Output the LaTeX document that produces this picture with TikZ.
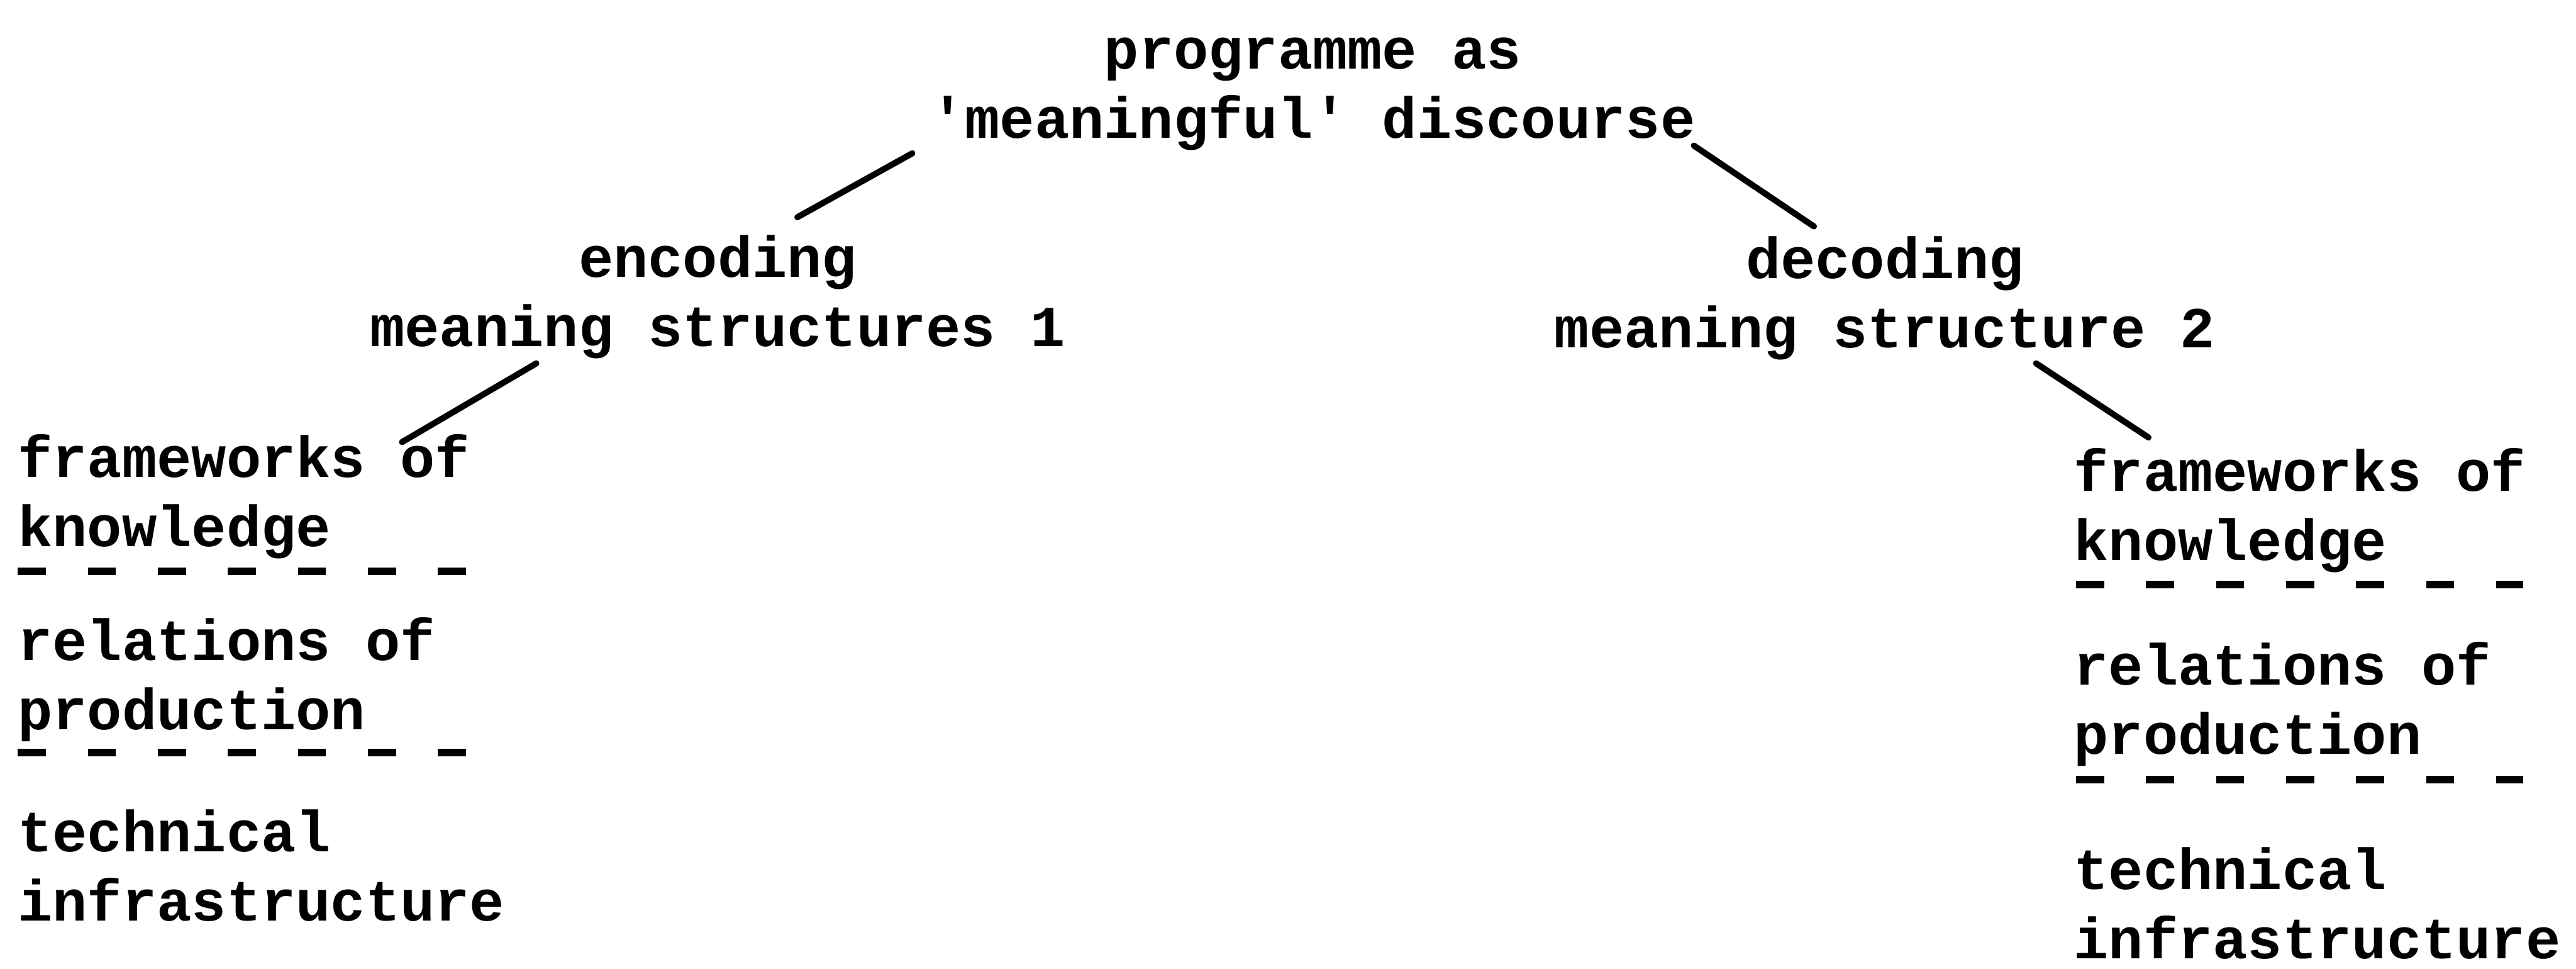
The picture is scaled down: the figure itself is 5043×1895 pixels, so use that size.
\documentclass[tikz,border=0pt]{standalone}
\usepackage{fontspec}
\setmonofont{Liberation Mono}
\usetikzlibrary{calc}
\begin{document}
\begin{tikzpicture}[x=0.01cm,y=-0.01cm,
  lbl/.style={font=\fontsize{32.25}{38.5}\selectfont\ttfamily\bfseries, inner sep=0pt, outer sep=0pt},
  conn/.style={line width=3.4pt, line cap=round},
  dashrow/.style={line width=4.2pt, dash pattern=on 0.55cm off 0.82cm}]
\useasboundingbox[fill=white] (0,0) rectangle (5043,1895);

% anchor "base" of a multi-line node = baseline of its last line
\node[lbl, align=center, anchor=base] (top) at (2570,270) {programme as\\'meaningful' discourse};
\node[lbl, align=center, anchor=base] (enc) at (1405,678) {encoding\\meaning structures 1};
\node[lbl, align=center, anchor=base] (dec) at (3690,680) {decoding\\meaning structure 2};

\node[lbl, align=left, anchor=base west] (lfk) at (35,1069) {frameworks of\\knowledge};
\node[lbl, align=left, anchor=base west] (lrp) at (35,1427) {relations of\\production};
\node[lbl, align=left, anchor=base west] (lti) at (35,1802) {technical\\infrastructure};

\node[lbl, align=left, anchor=base west] (rfk) at (4060,1096) {frameworks of\\knowledge};
\node[lbl, align=left, anchor=base west] (rrp) at (4060,1475) {relations of\\production};
\node[lbl, align=left, anchor=base west] (rti) at (4060,1876) {technical\\infrastructure};

% connectors
\draw[conn] ($(top.base)+(-784,30)$) -- ($(enc.base)+(156,-253)$);
\draw[conn] ($(top.base)+(746,15)$) -- ($(dec.base)+(-139,-237)$);
\draw[conn] ($(enc.base)+(-355,33)$) -- ($(lfk.base west)+(752,-204)$);
\draw[conn] ($(dec.base)+(296,31)$) -- ($(rfk.base west)+(146,-240)$);

% dashed rules
\draw[dashrow] ($(lfk.base west)+(0,49)$) -- ++(881,0);
\draw[dashrow] ($(lrp.base west)+(0,46)$) -- ++(881,0);
\draw[dashrow] ($(rfk.base west)+(4,48)$) -- ++(875,0);
\draw[dashrow] ($(rrp.base west)+(4,51)$) -- ++(875,0);
\end{tikzpicture}
\end{document}
